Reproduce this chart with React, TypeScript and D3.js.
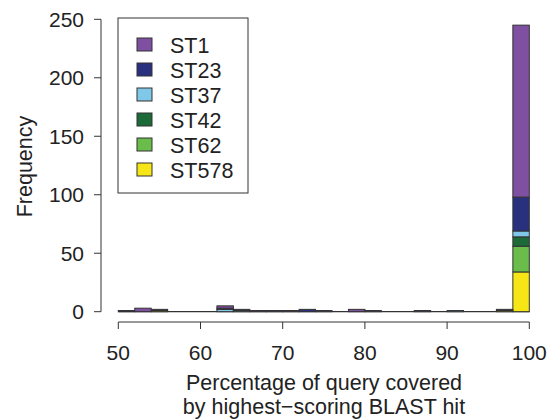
import React from "react";
import * as d3 from "d3";

const binStarts = d3.range(50, 100, 2);
const series = ["ST578", "ST62", "ST42", "ST37", "ST23", "ST1"];
const legendOrder = ["ST1", "ST23", "ST37", "ST42", "ST62", "ST578"];
const colors: Record<string, string> = {
  ST1: "#7f4fa1",
  ST23: "#29317f",
  ST37: "#80c8e8",
  ST42: "#1b6a38",
  ST62: "#6abd4a",
  ST578: "#f6e616",
};
//            50 52 54 56 58 60 62 64 66 68 70 72 74 76 78 80 82 84 86 88 90 92 94 96 98
const ST1 =   [0, 3, 0, 0, 0, 0, 2, 0, 1, 1, 1, 0, 1, 0, 2, 1, 0, 0, 1, 0, 0, 0, 0, 0, 147];
const ST23 =  [1, 0, 1, 0, 0, 0, 1, 1, 0, 0, 0, 2, 0, 0, 0, 0, 0, 0, 0, 0, 0, 0, 0, 1, 29];
const ST37 =  [0, 0, 0, 0, 0, 0, 2, 1, 0, 0, 0, 0, 0, 0, 0, 0, 0, 0, 0, 0, 1, 0, 0, 0, 5];
const ST42 =  [0, 0, 0, 0, 0, 0, 0, 0, 0, 0, 0, 0, 0, 0, 0, 0, 0, 0, 0, 0, 0, 0, 0, 0, 8];
const ST62 =  [0, 0, 0, 0, 0, 0, 0, 0, 0, 0, 0, 0, 0, 0, 0, 0, 0, 0, 0, 0, 0, 0, 0, 0, 22];
const ST578 = [0, 0, 1, 0, 0, 0, 0, 0, 0, 0, 0, 0, 0, 0, 0, 0, 0, 0, 0, 0, 0, 0, 0, 1, 34];
const xTicks = [50, 60, 70, 80, 90, 100];
const yTicks = [0, 50, 100, 150, 200, 250];
const xTitle = ["Percentage of query covered", "by highest\u2212scoring BLAST hit"];
const yTitle = "Frequency";

const values: Record<string, number[]> = { ST1, ST23, ST37, ST42, ST62, ST578 };

export default function App() {
  const W = 554, H = 419;
  const x = d3.scaleLinear().domain([50, 100]).range([118.3, 529.3]);
  const y = d3.scaleLinear().domain([0, 250]).range([311.7, 19.3]);
  const rows = binStarts.map((b, i) => {
    const r: any = { bin: b };
    series.forEach((s) => (r[s] = values[s][i]));
    return r;
  });
  const stacked = d3.stack().keys(series)(rows);
  const font = "'Liberation Sans', Arial, Helvetica, sans-serif";
  const fs = 21;
  const fsT = 21.5;
  const stroke = "#333";
  return (
    <div style={{ position: "absolute", left: 0, top: 0 }}>
      <svg width={W} height={H} style={{ display: "block", background: "#fff" }} fontFamily={font}>
        {/* baseline of zero-height bars */}
        <line x1={x(50)} x2={x(100)} y1={y(0)} y2={y(0)} stroke={stroke} strokeWidth={1.2} />
        {stacked.map((layer) =>
          layer.map((d, i) => {
            if (d[1] - d[0] <= 0) return null;
            const b = binStarts[i];
            return (
              <rect
                key={layer.key + i}
                x={x(b)}
                width={x(b + 2) - x(b)}
                y={y(d[1])}
                height={y(d[0]) - y(d[1])}
                fill={colors[layer.key as string]}
                stroke={stroke}
                strokeWidth={1}
              />
            );
          })
        )}
        {/* y axis */}
        <line x1={101} x2={101} y1={y(0)} y2={y(250)} stroke={stroke} strokeWidth={1} />
        {yTicks.map((t) => (
          <g key={t}>
            <line x1={94} x2={101} y1={y(t)} y2={y(t)} stroke={stroke} strokeWidth={1} />
            <text x={84} y={y(t)} dy="0.36em" textAnchor="end" fontSize={fs} fill="#222">
              {t}
            </text>
          </g>
        ))}
        <text
          transform={`translate(32,${(y(0) + y(250)) / 2 + 1}) rotate(-90)`}
          textAnchor="middle"
          fontSize={fsT}
          fill="#222"
        >
          {yTitle}
        </text>
        {/* x axis */}
        <line x1={x(50)} x2={x(100)} y1={322} y2={322} stroke={stroke} strokeWidth={1} />
        {xTicks.map((t) => (
          <g key={t}>
            <line x1={x(t)} x2={x(t)} y1={322} y2={329} stroke={stroke} strokeWidth={1} />
            <text x={x(t)} y={352} dy="0.36em" textAnchor="middle" fontSize={fs} fill="#222">
              {t}
            </text>
          </g>
        ))}
        {xTitle.map((t, i) => (
          <text key={t} x={324} y={382 + i * 24} dy="0.36em" textAnchor="middle" fontSize={fsT} fill="#222">
            {t}
          </text>
        ))}
        {/* legend */}
        <rect x={118} y={18} width={130} height={175} fill="#fff" stroke={stroke} strokeWidth={1} />
        {legendOrder.map((s, i) => (
          <g key={s}>
            <rect x={137} y={38 + i * 25} width={15} height={13} fill={colors[s]} stroke={stroke} strokeWidth={1} />
            <text x={170} y={45 + i * 25} dy="0.36em" fontSize={fsT} fill="#222">
              {s}
            </text>
          </g>
        ))}
      </svg>
    </div>
  );
}
